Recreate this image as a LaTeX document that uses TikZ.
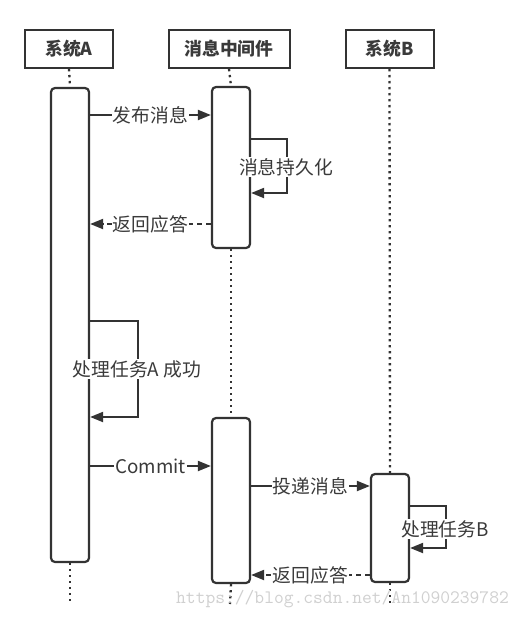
\documentclass[tikz,border=0pt]{standalone}
\usepackage{fontspec}
\setmainfont{Noto Sans CJK SC}
\usetikzlibrary{arrows.meta}
\definecolor{ink}{HTML}{333333}
\definecolor{txt}{HTML}{3A3A3A}
\definecolor{wm}{HTML}{D0D0D0}
\tikzset{
  hdr/.style={draw=ink, line width=2pt, fill=white, minimum height=38pt, inner sep=0pt, font=\fontsize{17.8}{20}\selectfont\bfseries, text=txt},
  actbox/.style={draw=ink, line width=2.2pt, rounded corners=4pt, fill=white, minimum width=38pt, inner sep=0pt},
  life/.style={draw=ink, line width=2.3pt, dash pattern=on 2.3pt off 3.7pt},
  msg/.style={draw=ink, line width=2pt, -{Triangle[length=13pt,width=10pt]}},
  ret/.style={msg, dash pattern=on 5pt off 4pt},
  lbl/.style={fill=white, inner xsep=1pt, inner ysep=1pt, text=txt, font=\fontsize{18.8}{20}\selectfont}
}
\begin{document}
\begin{tikzpicture}[x=1pt,y=-1pt]
\useasboundingbox[fill=white] (0,0) rectangle (527,618);

% headers
\node[hdr, minimum width=88pt] (hA) at (69,49) {系统A};
\node[hdr, minimum width=121pt] (hM) at (229,49) {消息中间件};
\node[hdr, minimum width=88pt] (hB) at (389.5,49) {系统B};

% lifeline end coordinates
\coordinate (eA) at (70,603);
\coordinate (eM) at (230,604);
\coordinate (eB) at (390,604);

% activation boxes
\node[actbox, minimum height=474pt] (aA) at (70,325) {};
\node[actbox, minimum height=161pt] (aM1) at (231,167.5) {};
\node[actbox, minimum height=165pt] (aM2) at (231,500.5) {};
\node[actbox, minimum height=108pt] (aB) at (390,528) {};

% lifelines
\draw[life] (hA.south) -- (aA.north);
\draw[life] (aA.south) -- (eA);
\draw[life] (hM.south) -- (aM1.north);
\draw[life] (aM1.south) -- (aM2.north);
\draw[life] (aM2.south) -- (eM);
\draw[life] (hB.south) -- (aB.north);
\draw[life] (aB.south) -- (eB);

% 1: publish
\draw[msg] (aA.east |- 0,115) -- node[lbl] (l1) {发布消息} (aM1.west |- 0,115);
% 2: persist self loop
\coordinate (p2a) at (287,139);
\coordinate (p2b) at (287,193);
\draw[msg] (aM1.east |- p2a) -- (p2a) -- (p2b) -- (aM1.east |- p2b);
\node[lbl] (l2) at (286,167) {消息持久化};
% 3: reply
\draw[ret] (aM1.west |- 0,224) -- node[lbl] (l3) {返回应答} (aA.east |- 0,224);
% 4: A self loop
\coordinate (p4a) at (138,321);
\coordinate (p4b) at (138,417);
\draw[msg] (aA.east |- p4a) -- (p4a) -- (p4b) -- (aA.east |- p4b);
\node[lbl] (l4) at (137,369) {处理任务A 成功};
% 5: commit
\draw[msg] (aA.east |- 0,466) -- node[lbl] (l5) {Commit} (aM2.west |- 0,466);
% 6: deliver
\draw[msg] (aM2.east |- 0,486) -- node[lbl] (l6) {投递消息} (aB.west |- 0,486);
% 7: B self loop
\coordinate (p7a) at (446,506);
\coordinate (p7b) at (446,548);
\draw[msg] (aB.east |- p7a) -- (p7a) -- (p7b) -- (aB.east |- p7b);
\node[lbl] (l7) at (445,529) {处理任务B};
% 8: reply
\draw[ret] (aB.west |- 0,575) -- node[lbl] (l8) {返回应答} (aM2.east |- 0,575);

% watermark
\node[anchor=base west, inner sep=0pt, text=wm, font=\ttfamily\fontsize{19}{20}\selectfont] (wmk) at (176,603) {https://blog.csdn.net/An1090239782};
\end{tikzpicture}
\end{document}
